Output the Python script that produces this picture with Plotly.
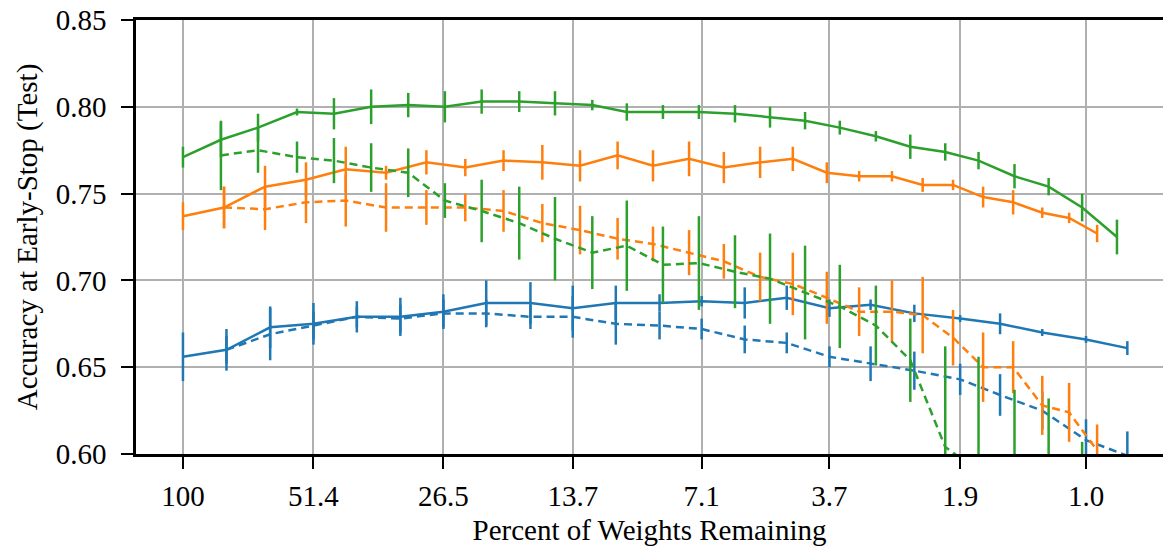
import plotly.graph_objects as go

# Percent of weights remaining at each pruning iteration
pct_conv2 = [100, 80.1, 64.1, 51.4, 41.2, 33.0, 26.5, 21.3, 17.0, 13.7, 11.0, 8.8,
             7.1, 5.7, 4.6, 3.7, 3.0, 2.4, 1.9, 1.55, 1.25, 1.0, 0.81]
pct_conv4 = [100, 81.1, 65.8, 53.4, 43.6, 35.5, 28.9, 23.7, 19.5, 16.0, 13.2, 10.9,
             9.10, 7.57, 6.34, 5.27, 4.46, 3.75, 3.18, 2.69, 2.30, 1.97, 1.69, 1.45,
             1.25, 1.09, 0.945]
pct_conv6 = [100, 82.4, 68.2, 55.9, 46.3, 38.3, 31.7, 26.3, 21.8, 18.0, 15.0, 12.4,
             10.4, 8.65, 7.20, 5.99, 5.01, 4.19, 3.51, 2.92, 2.45, 2.05, 1.73, 1.44,
             1.21, 1.02, 0.854]

# Conv-2 (blue)
conv2_winning = [0.656, 0.660, 0.673, 0.675, 0.679, 0.679, 0.682, 0.687, 0.687, 0.684,
                 0.687, 0.687, 0.688, 0.687, 0.690, 0.684, 0.686, 0.681, 0.678, 0.675,
                 0.670, 0.666, 0.661]
conv2_winning_err = [0.014, 0.012, 0.012, 0.012, 0.009, 0.011, 0.010, 0.013, 0.012, 0.013,
                     0.010, 0.005, 0.003, 0.009, 0.007, 0.005, 0.003, 0.005, 0.002, 0.006,
                     0.002, 0.002, 0.004]
conv2_reinit = [0.660, 0.669, 0.674, 0.679, 0.678, 0.681, 0.681, 0.679, 0.679, 0.675,
                0.674, 0.672, 0.666, 0.664, 0.656, 0.652, 0.648, 0.643, 0.634, 0.625,
                0.608, 0.599]
conv2_reinit_err = [0.008, 0.015, 0.008, 0.006, 0.008, 0.008, 0.008, 0.007, 0.012, 0.012,
                    0.008, 0.006, 0.008, 0.006, 0.006, 0.010, 0.011, 0.009, 0.012, 0.011,
                    0.012, 0.014]

# Conv-4 (orange)
conv4_winning = [0.737, 0.742, 0.754, 0.758, 0.764, 0.762, 0.768, 0.765, 0.769, 0.768,
                 0.766, 0.772, 0.766, 0.770, 0.765, 0.768, 0.770, 0.762, 0.760, 0.760,
                 0.755, 0.755, 0.748, 0.745, 0.739, 0.736, 0.727]
conv4_winning_err = [0.008, 0.012, 0.012, 0.010, 0.013, 0.004, 0.007, 0.005, 0.006, 0.010,
                     0.009, 0.008, 0.009, 0.010, 0.009, 0.009, 0.007, 0.006, 0.003, 0.003,
                     0.004, 0.003, 0.006, 0.007, 0.003, 0.003, 0.005]
conv4_reinit = [0.742, 0.741, 0.745, 0.746, 0.742, 0.742, 0.742, 0.740, 0.733, 0.729,
                0.724, 0.721, 0.716, 0.711, 0.702, 0.698, 0.690, 0.682, 0.682, 0.680,
                0.667, 0.650, 0.650, 0.628, 0.624, 0.602]
conv4_reinit_err = [0.012, 0.012, 0.012, 0.015, 0.014, 0.010, 0.008, 0.012, 0.011, 0.014,
                    0.012, 0.010, 0.013, 0.010, 0.014, 0.018, 0.015, 0.014, 0.018, 0.022,
                    0.016, 0.020, 0.015, 0.017, 0.017, 0.015]

# Conv-6 (green)
conv6_winning = [0.771, 0.781, 0.788, 0.797, 0.796, 0.800, 0.801, 0.800, 0.803, 0.803,
                 0.802, 0.801, 0.797, 0.797, 0.797, 0.796, 0.794, 0.792, 0.788, 0.783,
                 0.777, 0.774, 0.769, 0.760, 0.754, 0.742, 0.725]
conv6_winning_err = [0.006, 0.010, 0.008, 0.002, 0.009, 0.010, 0.007, 0.009, 0.007, 0.006,
                     0.007, 0.003, 0.005, 0.004, 0.004, 0.005, 0.006, 0.005, 0.004, 0.003,
                     0.007, 0.005, 0.005, 0.007, 0.005, 0.008, 0.010]
conv6_reinit = [0.772, 0.775, 0.771, 0.769, 0.765, 0.762, 0.746, 0.740, 0.733, 0.724,
                0.716, 0.720, 0.709, 0.710, 0.705, 0.701, 0.693, 0.685, 0.674, 0.654,
                0.604, 0.590, 0.580, 0.570, 0.550]
conv6_reinit_err = [0.020, 0.013, 0.009, 0.013, 0.014, 0.014, 0.010, 0.018, 0.021, 0.024,
                    0.021, 0.026, 0.022, 0.027, 0.021, 0.026, 0.027, 0.024, 0.023, 0.024,
                    0.058, 0.066, 0.057, 0.062, 0.057]

x_tickvals = [100, 51.4, 26.5, 13.7, 7.1, 3.7, 1.9, 1.0]
x_ticktext = ["100", "51.4", "26.5", "13.7", "7.1", "3.7", "1.9", "1.0"]
y_tickvals = [0.60, 0.65, 0.70, 0.75, 0.80, 0.85]

BLUE, ORANGE, GREEN = "#1f77b4", "#ff7f0e", "#2ca02c"
LW = 2.5
DASH = "8px,5px"


def series(x, y, err, color, dashed):
    return go.Scatter(
        x=x, y=y, mode="lines",
        line=dict(color=color, width=LW, dash=DASH if dashed else "solid"),
        error_y=dict(type="data", array=err, visible=True, width=0,
                     thickness=2.5, color=color),
        showlegend=False, hoverinfo="skip",
    )


fig = go.Figure()
fig.add_trace(series(pct_conv2, conv2_winning, conv2_winning_err, BLUE, False))
fig.add_trace(series(pct_conv2[1:], conv2_reinit, conv2_reinit_err, BLUE, True))
fig.add_trace(series(pct_conv4, conv4_winning, conv4_winning_err, ORANGE, False))
fig.add_trace(series(pct_conv4[1:], conv4_reinit, conv4_reinit_err, ORANGE, True))
fig.add_trace(series(pct_conv6, conv6_winning, conv6_winning_err, GREEN, False))
fig.add_trace(series(pct_conv6[1:1 + len(conv6_reinit)], conv6_reinit, conv6_reinit_err, GREEN, True))

FONT = "Liberation Serif, Times New Roman, serif"
axis_common = dict(
    showline=True, linecolor="black", linewidth=2.5,
    ticks="outside", ticklen=12, tickwidth=2, tickcolor="black",
    showgrid=True, gridcolor="#b0b0b0", gridwidth=2,
    zeroline=False,
    tickfont=dict(family=FONT, size=29, color="black"),
)

fig.update_layout(
    width=1163, height=550,
    margin=dict(l=136, r=0, t=20, b=96),
    paper_bgcolor="white", plot_bgcolor="white",
    font=dict(family=FONT, color="black"),
    xaxis=dict(
        type="log", range=[2.104, -0.1705],
        tickmode="array", tickvals=x_tickvals, ticktext=x_ticktext,
        mirror=True, ticklabelstandoff=2,
        title=dict(text="Percent of Weights Remaining",
                   font=dict(family=FONT, size=29, color="black"), standoff=10),
        **axis_common,
    ),
    yaxis=dict(
        range=[0.60, 0.85],
        tickmode="array", tickvals=y_tickvals, tickformat=".2f",
        mirror=False, ticklabelstandoff=9,
        title=dict(text="Accuracy at Early-Stop (Test)",
                   font=dict(family=FONT, size=29, color="black"), standoff=10),
        **axis_common,
    ),
)

fig.write_html("out.html")
